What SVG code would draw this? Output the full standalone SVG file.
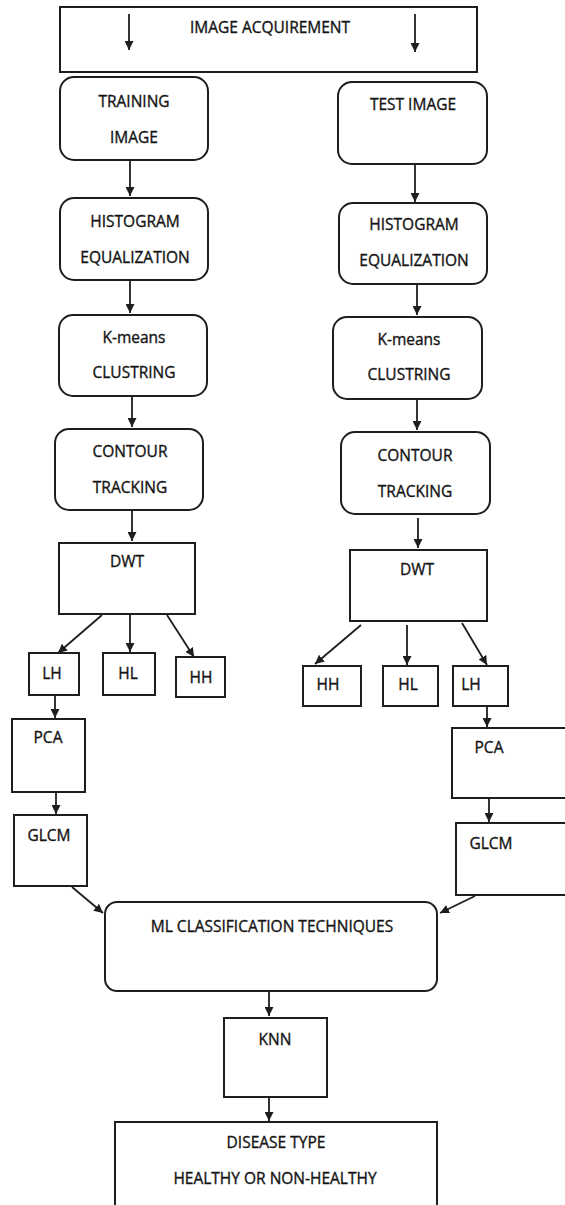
<svg xmlns="http://www.w3.org/2000/svg" width="565" height="1205" viewBox="0 0 565 1205">
<style>
.b{fill:#fff;stroke:#1e1e1e;stroke-width:2}
.t{font-family:"Open Sans","DejaVu Sans",sans-serif;font-size:15.5px;fill:#141414;stroke:#141414;stroke-width:0.35;text-anchor:middle}
.c{stroke:#1e1e1e;stroke-width:1.8;fill:none}
</style>
<defs>
<marker id="ah" markerUnits="userSpaceOnUse" markerWidth="9" markerHeight="9" viewBox="0 0 10 10" refX="10" refY="5" orient="auto">
<path d="M0,0 L10,5 L0,10 z" fill="#1e1e1e"/>
</marker>
</defs>
<rect width="565" height="1205" fill="#fff"/>
<g id="acq"><rect class="b" x="60" y="7" width="417" height="65"/><text class="t" x="270" y="33">IMAGE ACQUIREMENT</text></g>
<g id="train"><rect class="b" x="60" y="77" width="148" height="83" rx="14"/><text class="t" x="134" y="107">TRAINING</text><text class="t" x="134" y="143">IMAGE</text></g>
<g id="test"><rect class="b" x="338" y="82" width="149" height="82" rx="14"/><text class="t" x="413" y="110">TEST IMAGE</text></g>
<g id="histL"><rect class="b" x="60" y="198" width="148" height="82" rx="14"/><text class="t" x="135" y="227">HISTOGRAM</text><text class="t" x="135" y="263">EQUALIZATION</text></g>
<g id="histR"><rect class="b" x="339" y="203" width="148" height="81" rx="14"/><text class="t" x="414" y="230">HISTOGRAM</text><text class="t" x="414" y="266">EQUALIZATION</text></g>
<g id="kmL"><rect class="b" x="59" y="315" width="148" height="81" rx="14"/><text class="t" x="134" y="343">K-means</text><text class="t" x="134" y="378">CLUSTRING</text></g>
<g id="kmR"><rect class="b" x="333" y="317" width="149" height="82" rx="14"/><text class="t" x="409" y="345">K-means</text><text class="t" x="409" y="380">CLUSTRING</text></g>
<g id="ctL"><rect class="b" x="55" y="429" width="148" height="81" rx="14"/><text class="t" x="130" y="457">CONTOUR</text><text class="t" x="130" y="493">TRACKING</text></g>
<g id="ctR"><rect class="b" x="341" y="432" width="149" height="82" rx="14"/><text class="t" x="415" y="461">CONTOUR</text><text class="t" x="415" y="497">TRACKING</text></g>
<g id="dwtL"><rect class="b" x="59" y="543" width="136" height="71"/><text class="t" x="127" y="567">DWT</text></g>
<g id="dwtR"><rect class="b" x="350" y="550" width="137" height="71"/><text class="t" x="417" y="575">DWT</text></g>
<g id="lhL"><rect class="b" x="29" y="653" width="50" height="42"/><text class="t" x="52" y="679">LH</text></g>
<g id="hlL"><rect class="b" x="103" y="653" width="52" height="42"/><text class="t" x="128" y="679">HL</text></g>
<g id="hhL"><rect class="b" x="176" y="657" width="49" height="40"/><text class="t" x="201" y="683">HH</text></g>
<g id="hhR"><rect class="b" x="303" y="666" width="58" height="40"/><text class="t" x="328" y="690">HH</text></g>
<g id="hlR"><rect class="b" x="383" y="666" width="55" height="40"/><text class="t" x="408" y="690">HL</text></g>
<g id="lhR"><rect class="b" x="453" y="666" width="55" height="40"/><text class="t" x="471" y="690">LH</text></g>
<g id="pcaL"><rect class="b" x="12" y="719" width="73" height="73"/><text class="t" x="48" y="743">PCA</text></g>
<g id="pcaR"><rect class="b" x="452" y="728" width="123" height="70"/><text class="t" x="489" y="753">PCA</text></g>
<g id="glcmL"><rect class="b" x="14" y="815" width="73" height="71"/><text class="t" x="49" y="841">GLCM</text></g>
<g id="glcmR"><rect class="b" x="456" y="823" width="119" height="72"/><text class="t" x="491" y="849">GLCM</text></g>
<g id="ml"><rect class="b" x="105" y="902" width="332" height="89" rx="12"/><text class="t" x="272" y="932">ML CLASSIFICATION TECHNIQUES</text></g>
<g id="knn"><rect class="b" x="224" y="1018" width="103" height="79"/><text class="t" x="275" y="1045">KNN</text></g>
<g id="disease"><rect class="b" x="115" y="1122" width="322" height="95"/><text class="t" x="276" y="1148">DISEASE TYPE</text><text class="t" x="275" y="1184">HEALTHY OR NON-HEALTHY</text></g>
<g id="connectors" class="c" marker-end="url(#ah)">
<line x1="129" y1="14" x2="129" y2="50"/>
<line x1="415" y1="14" x2="415" y2="52"/>
<line x1="130" y1="160" x2="130" y2="196"/>
<line x1="415" y1="164" x2="415" y2="202"/>
<line x1="130" y1="280" x2="130" y2="313"/>
<line x1="417" y1="284" x2="417" y2="315"/>
<line x1="132" y1="396" x2="132" y2="427"/>
<line x1="417" y1="399" x2="417" y2="430"/>
<line x1="132" y1="510" x2="132" y2="541"/>
<line x1="418" y1="518" x2="418" y2="548"/>
<line x1="102" y1="615" x2="58" y2="653"/>
<line x1="130" y1="614" x2="130" y2="652"/>
<line x1="167" y1="615" x2="194" y2="657"/>
<line x1="361" y1="625" x2="315" y2="664"/>
<line x1="407" y1="625" x2="407" y2="665"/>
<line x1="462" y1="623" x2="487" y2="665"/>
<line x1="55" y1="695" x2="55" y2="718"/>
<line x1="487" y1="706" x2="487" y2="727"/>
<line x1="56" y1="792" x2="56" y2="814"/>
<line x1="489" y1="798" x2="489" y2="822"/>
<line x1="72" y1="887" x2="103" y2="913"/>
<line x1="475" y1="896" x2="440" y2="913"/>
<line x1="269" y1="991" x2="269" y2="1016"/>
<line x1="269" y1="1097" x2="269" y2="1121"/>
</g>
</svg>
